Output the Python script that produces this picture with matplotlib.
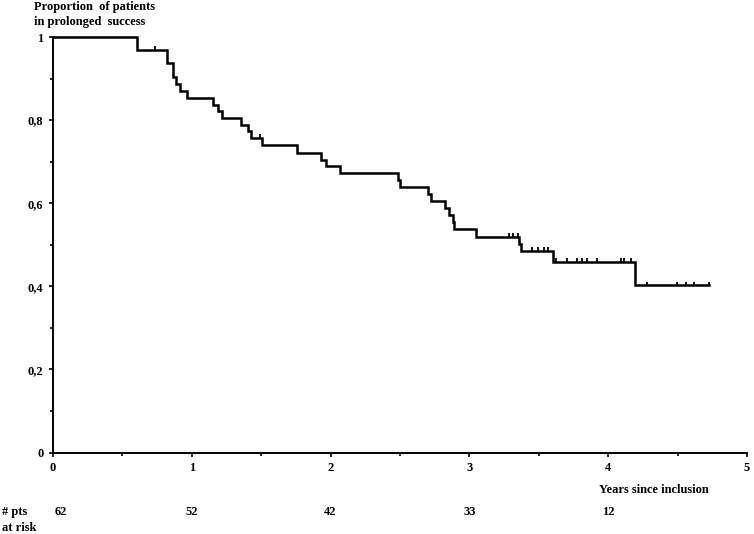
# Kaplan-Meier style curve: prolonged success over years since inclusion
import matplotlib.pyplot as plt
import numpy as np
from matplotlib.ticker import MultipleLocator, FixedLocator
import matplotlib.transforms as mtransforms

# step times (years) and proportion after each step
step_years = [0, 0.604, 0.822, 0.861, 0.889, 0.918, 0.966, 1.153, 1.189, 1.214,
              1.358, 1.405, 1.424, 1.506, 1.757, 1.933, 1.964, 2.065, 2.484,
              2.501, 2.700, 2.724, 2.827, 2.856, 2.880, 2.892, 3.048, 3.355,
              3.372, 3.600, 4.194]
step_surv = [1.0, 0.969, 0.937, 0.904, 0.888, 0.871, 0.853, 0.837, 0.821, 0.805,
             0.789, 0.773, 0.757, 0.741, 0.722, 0.705, 0.689, 0.672, 0.656,
             0.639, 0.622, 0.606, 0.589, 0.572, 0.555, 0.538, 0.519, 0.502,
             0.485, 0.459, 0.402]
end_year = 4.727

# censored observations (tick marks)
censor_years = [0.734, 1.494, 3.288, 3.317, 3.348, 3.453, 3.496, 3.537, 3.568,
                3.625, 3.705, 3.777, 3.813, 3.849, 3.921, 4.094, 4.115, 4.165,
                4.281, 4.496, 4.561, 4.619, 4.727]

risk_years = [0, 1, 2, 3, 4]
at_risk = ['62', '52', '42', '33', '12']

y_ticks = [0, 0.2, 0.4, 0.6, 0.8, 1]
y_labels = ['0', '0,2', '0,4', '0,6', '0,8', '1']

plt.rcParams['font.family'] = ['Liberation Serif', 'DejaVu Serif']
plt.rcParams['font.weight'] = 'bold'
plt.rcParams['font.size'] = 9

fig = plt.figure(figsize=(7.54, 5.34), dpi=100)
ax = fig.add_axes([53 / 754, (534 - 452.5) / 534, (747 - 53) / 754, (452.5 - 37) / 534])

xs = list(step_years) + [end_year]
ys = list(step_surv) + [step_surv[-1]]
ax.step(xs, ys, where='post', color='black', lw=1.8, clip_on=False,
        solid_joinstyle='miter')

# censor ticks on the curve
idx = np.searchsorted(step_years, censor_years, side='right') - 1
cy = np.array(step_surv)[idx]
ax.vlines(censor_years, cy, cy + 0.009, color='black', lw=1.3)

ax.set_xlim(0, 5)
ax.set_ylim(0, 1)
ax.spines['top'].set_visible(False)
ax.spines['right'].set_visible(False)
for s in ['left', 'bottom']:
    ax.spines[s].set_linewidth(1.4)

ax.xaxis.set_major_locator(MultipleLocator(1))
ax.xaxis.set_minor_locator(MultipleLocator(0.5))
ax.yaxis.set_major_locator(FixedLocator(y_ticks))
ax.yaxis.set_minor_locator(MultipleLocator(0.1))
ax.set_yticklabels(y_labels)
ax.tick_params(which='major', direction='out', length=3, width=1.2, pad=4,
               labelsize=9)
ax.tick_params(which='minor', direction='out', length=2, width=1.2)

fig.text(34 / 754, 1 - 10 / 534, 'Proportion  of patients', fontsize=9,
         fontweight='bold', va='baseline', ha='left')
fig.text(34 / 754, 1 - 25 / 534, 'in prolonged  success', fontsize=9,
         fontweight='bold', va='baseline', ha='left')

fig.text(599 / 754, 1 - 490 / 534, 'Years since inclusion', fontsize=9,
         fontweight='bold', va='center', ha='left')

trans = mtransforms.blended_transform_factory(ax.transData, fig.transFigure)
for i, (x, n) in enumerate(zip(risk_years, at_risk)):
    ax.text(x + (0.015 if i == 0 else 0), 1 - 512 / 534, n, transform=trans,
            fontsize=9, fontweight='bold', va='center',
            ha='left' if i == 0 else 'center')
fig.text(0.002, 1 - 512 / 534, '# pts', fontsize=9, fontweight='bold',
         va='center', ha='left')
fig.text(0.002, 1 - 528 / 534, 'at risk', fontsize=9, fontweight='bold',
         va='center', ha='left')

fig.savefig('out.png', dpi=100)
